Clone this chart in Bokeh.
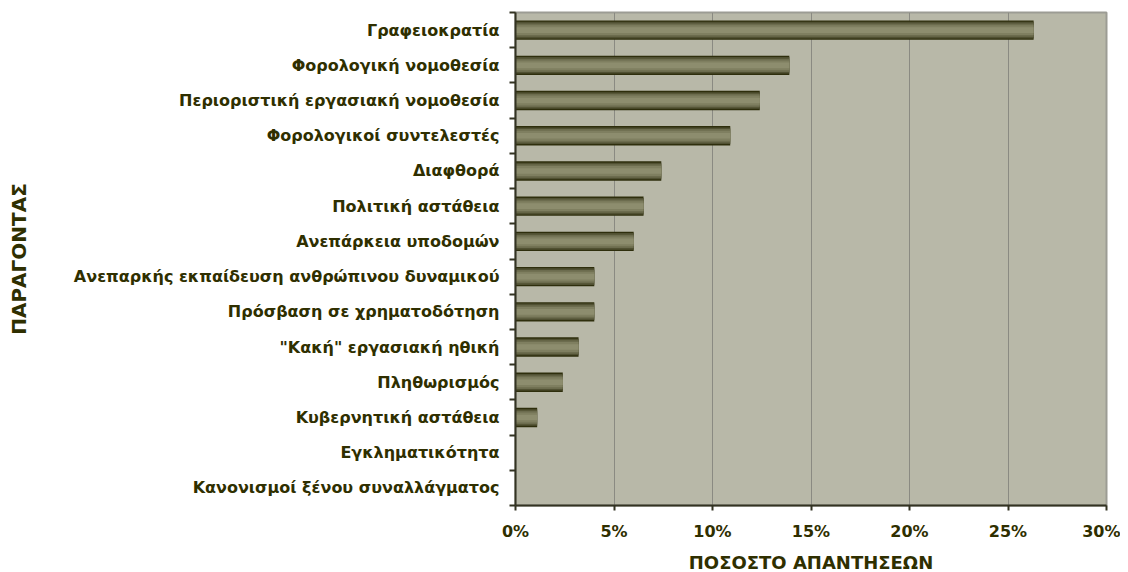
from bokeh.plotting import figure
from bokeh.models import FixedTicker, Range1d
from bokeh.embed import file_html
from bokeh.resources import INLINE

categories = [
    "Γραφειοκρατία",
    "Φορολογική νομοθεσία",
    "Περιοριστική εργασιακή νομοθεσία",
    "Φορολογικοί συντελεστές",
    "Διαφθορά",
    "Πολιτική αστάθεια",
    "Ανεπάρκεια υποδομών",
    "Ανεπαρκής εκπαίδευση ανθρώπινου δυναμικού",
    "Πρόσβαση σε χρηματοδότηση",
    "\"Κακή\" εργασιακή ηθική",
    "Πληθωρισμός",
    "Κυβερνητική αστάθεια",
    "Εγκληματικότητα",
    "Κανονισμοί ξένου συναλλάγματος",
]
values = [26.3, 13.9, 12.4, 10.9, 7.4, 6.5, 6.0, 4.0, 4.0, 3.2, 2.4, 1.1, 0.0, 0.0]
x_ticks = [0, 5, 10, 15, 20, 25, 30]
x_tick_labels = ["0%", "5%", "10%", "15%", "20%", "25%", "30%"]

n = len(categories)
ypos = [n - 1 - i for i in range(n)]
boundaries = [k - 0.5 for k in range(n + 1)]

TXT = "#2f2f00"
FONT = "DejaVu Sans"

p = figure(frame_width=591, frame_height=493, output_backend="svg", toolbar_location=None,
           x_range=Range1d(0, 30), y_range=Range1d(-0.5, n - 0.5),
           min_border_left=515, min_border_right=14, min_border_top=12, min_border_bottom=55,
           background_fill_color="#b8b8a8", border_fill_color="white")

# gradient bars built from layered hbars
layers = [(0.55, "#2e2e0c"), (0.47, "#505032"), (0.38, "#6c6c4e"), (0.28, "#7f7f60"), (0.16, "#8d8d6e")]
for h, c in layers:
    p.hbar(y=ypos, right=values, left=0, height=h, fill_color=c, line_color=None)

p.outline_line_color = "#9c9c94"
p.outline_line_width = 2

p.xgrid.ticker = FixedTicker(ticks=x_ticks)
p.xgrid.grid_line_color = "#8a8a82"
p.xgrid.grid_line_width = 1
p.ygrid.grid_line_color = None

xa = p.xaxis[0]
xa.ticker = FixedTicker(ticks=x_ticks)
xa.major_label_overrides = {t: l for t, l in zip(x_ticks, x_tick_labels)}
xa.major_label_text_font = FONT
xa.major_label_text_font_style = "bold"
xa.major_label_text_font_size = "16px"
xa.major_label_text_color = TXT
xa.major_label_standoff = 11
xa.major_tick_out = 5
xa.major_tick_in = 0
xa.minor_tick_out = 0
xa.minor_tick_in = 0
xa.axis_line_color = "#333322"
xa.axis_line_width = 2
xa.major_tick_line_color = "#333322"
xa.major_tick_line_width = 2
xa.axis_label = "ΠΟΣΟΣΤΟ ΑΠΑΝΤΗΣΕΩΝ"
xa.axis_label_text_font = FONT
xa.axis_label_text_font_style = "bold"
xa.axis_label_text_font_size = "18px"
xa.axis_label_text_color = TXT
xa.axis_label_standoff = 8

ya = p.yaxis[0]
ya.ticker = FixedTicker(ticks=ypos, minor_ticks=boundaries)
ya.major_label_overrides = {y: c for y, c in zip(ypos, categories)}
ya.major_label_text_font = FONT
ya.major_label_text_font_style = "bold"
ya.major_label_text_font_size = "16px"
ya.major_label_text_color = TXT
ya.major_label_standoff = 10
ya.major_tick_out = 0
ya.major_tick_in = 0
ya.minor_tick_out = 6
ya.minor_tick_in = 0
ya.minor_tick_line_color = "#333322"
ya.minor_tick_line_width = 2
ya.axis_line_color = "#333322"
ya.axis_line_width = 2
ya.axis_label = "ΠΑΡΑΓΟΝΤΑΣ"
ya.axis_label_text_font = FONT
ya.axis_label_text_font_style = "bold"
ya.axis_label_text_font_size = "20px"
ya.axis_label_text_color = TXT
ya.axis_label_standoff = 40

open("out.html", "w").write(file_html(p, INLINE))
